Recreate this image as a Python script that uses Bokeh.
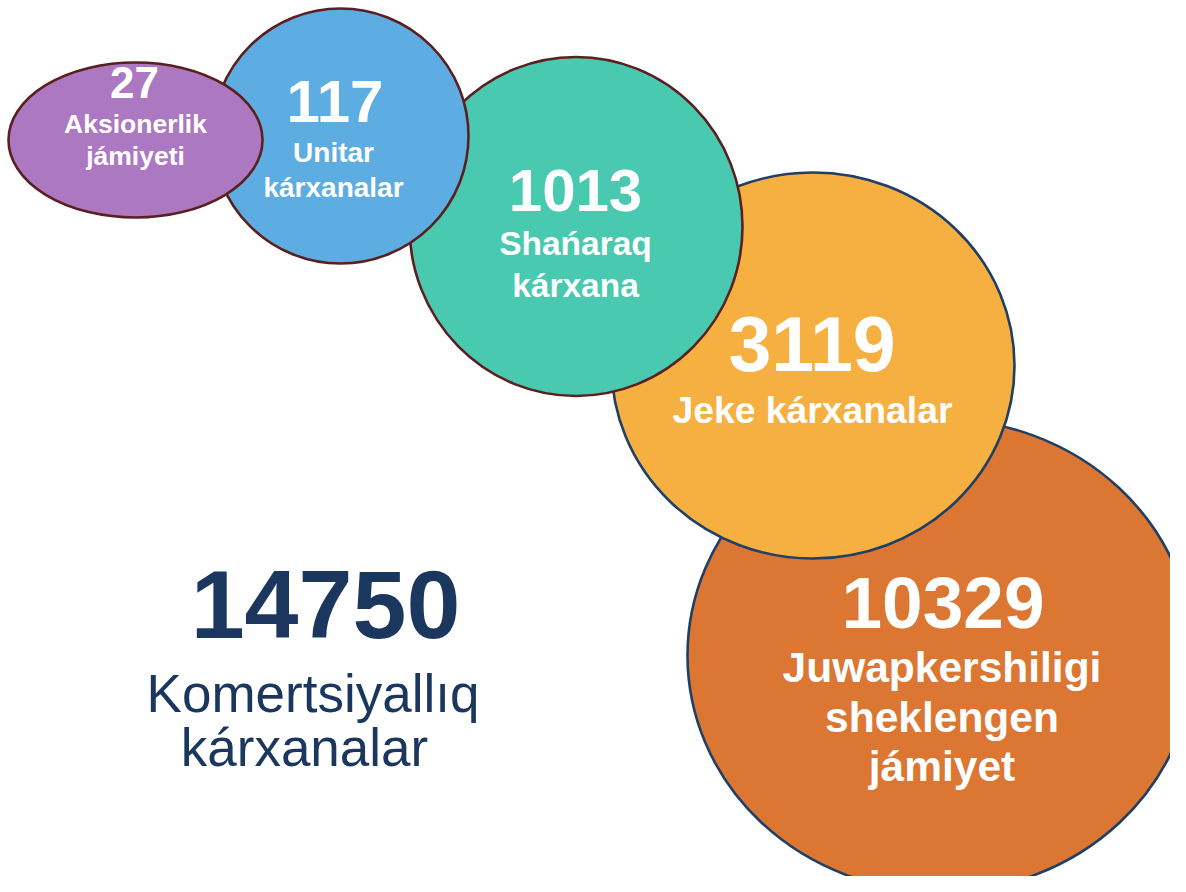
from bokeh.plotting import figure
from bokeh.models import Range1d, ColumnDataSource
from bokeh.core.properties import value
from bokeh.embed import file_html
from bokeh.resources import INLINE

# ---- data ----
categories = [
    ["Aksionerlik", "jámiyeti"],
    ["Unitar", "kárxanalar"],
    ["Shańaraq", "kárxana"],
    ["Jeke kárxanalar"],
    ["Juwapkershiligi", "sheklengen", "jámiyet"],
]
counts = [27, 117, 1013, 3119, 10329]
total_value = 14750
total_label = ["Komertsiyallıq", "kárxanalar"]

# ---- styles / layout (pixel space of the reference) ----
fills = ["#ad78c2", "#5dade2", "#48c9b0", "#f5b041", "#dc7633"]
outlines = ["#5c1f1f", "#5c1f1f", "#5c1f1f", "#1f3f66", "#1f3f66"]
cx = [135, 340, 575.5, 812.5, 940]
cy = [139.5, 135.5, 226, 365, 655]
ew = [254, 256, 333, 403, 506]
eh = [155, 255, 339, 386, 473]
num_size = [44, 60, 60, 77, 73]
num_base = [98, 123, 212, 372, 630]
lab_size = [26.5, 28, 33.5, 37.3, 42.5]
lab_base = [133, 162, 256, 423, 683]
lab_step = [32, 35, 42, 0, 49.5]
num_cx = [134, 334.5, 575, 811.5, 942.5]
lab_cx = [135, 333, 575, 812, 941.5]
SHIFT = 0.375  # baseline correction (fraction of font size)

W, H = 1170, 876
p = figure(width=W, height=H, x_range=Range1d(0, W), y_range=Range1d(H, 0),
           output_backend="svg", toolbar_location=None, min_border=0,
           x_axis_type=None, y_axis_type=None)
p.grid.visible = False
p.outline_line_color = None
p.background_fill_color = "white"
p.border_fill_color = "white"

order = [4, 3, 2, 1, 0]  # back to front
src = ColumnDataSource(dict(
    x=[cx[i] for i in order], y=[cy[i] for i in order],
    w=[ew[i] for i in order], h=[eh[i] for i in order],
    f=[fills[i] for i in order], c=[outlines[i] for i in order],
))
p.ellipse(x="x", y="y", width="w", height="h", fill_color="f", line_color="c",
          line_width=2.6, source=src)

font = value("Liberation Sans")
for i, v in enumerate(counts):
    p.text(x=[num_cx[i]], y=[num_base[i] - SHIFT * num_size[i]], text=[str(v)],
           text_font=font, text_font_style="bold",
           text_font_size=f"{num_size[i]}px",
           text_color="white", text_align="center", text_baseline="alphabetic")
    lines = categories[i]
    p.text(x=[lab_cx[i]] * len(lines),
           y=[lab_base[i] + k * lab_step[i] - SHIFT * lab_size[i] for k in range(len(lines))],
           text=lines, text_font=font, text_font_style="bold",
           text_font_size=f"{lab_size[i]}px", text_color="white",
           text_align="center", text_baseline="alphabetic")

navy = "#1b375e"
p.text(x=[325], y=[640 - SHIFT * 97], text=[str(total_value)], text_font=font,
       text_font_style="bold", text_font_size="97px", text_color=navy,
       text_align="center", text_baseline="alphabetic")
p.text(x=[312.5, 304], y=[713 - SHIFT * 53, 767 - SHIFT * 53], text=total_label,
       text_font=font, text_font_size="53px", text_color=navy,
       text_align="center", text_baseline="alphabetic")

open("out.html", "w").write(file_html(p, INLINE))
